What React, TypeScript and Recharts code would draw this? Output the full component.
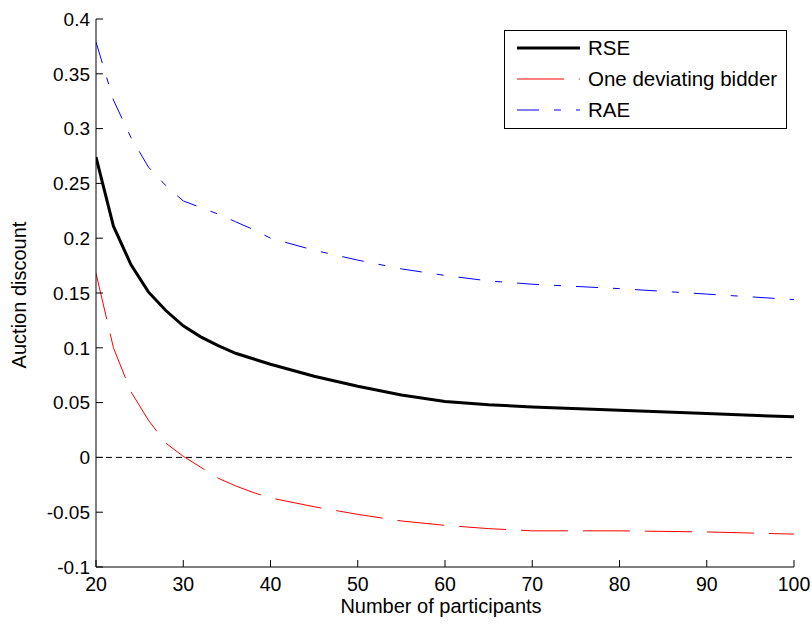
import React from "react";
import { LineChart, Line, XAxis, YAxis, ReferenceLine, Legend } from "recharts";

// number of participants (x) and the three auction-discount curves
const participants = [20, 22, 24, 26, 28, 30, 32, 34, 36, 38, 40, 45, 50, 55, 60, 65, 70, 80, 90, 100];
const rse = [0.274, 0.211, 0.176, 0.151, 0.134, 0.12, 0.11, 0.102, 0.095, 0.09, 0.085, 0.074, 0.065, 0.057, 0.051, 0.048, 0.046, 0.043, 0.04, 0.037];
const oneDeviating = [0.168, 0.1, 0.06, 0.034, 0.013, 0.001, -0.009, -0.019, -0.026, -0.032, -0.037, -0.045, -0.052, -0.058, -0.062, -0.065, -0.067, -0.067, -0.068, -0.07];
const rae = [0.379, 0.326, 0.292, 0.265, 0.248, 0.234, 0.228, 0.222, 0.215, 0.208, 0.2, 0.189, 0.18, 0.172, 0.166, 0.161, 0.158, 0.154, 0.149, 0.144];

const xTicks = [20, 30, 40, 50, 60, 70, 80, 90, 100];
const yTicks = [-0.1, -0.05, 0, 0.05, 0.1, 0.15, 0.2, 0.25, 0.3, 0.35, 0.4];

const seriesNames = ["RSE", "One deviating bidder", "RAE"];

const FONT = "'Liberation Sans', Arial, Helvetica, sans-serif";
const RED_DASH = "47 15";
const BLUE_DASH = "22 15 7 15";

const data = participants.map((n, i) => ({
  n,
  rse: rse[i],
  dev: oneDeviating[i],
  rae: rae[i],
}));

const LeftTick = ({ x, y, payload }: any) => (
  <g>
    <line x1={x} y1={y} x2={x + 7} y2={y} stroke="#000" />
    <text x={x - 6} y={y} dy="0.36em" textAnchor="end" fontSize={19} fontFamily={FONT} fill="#000">
      {String(payload.value)}
    </text>
  </g>
);

const RightTick = ({ x, y }: any) => <line x1={x} y1={y} x2={x - 7} y2={y} stroke="#000" />;

const BottomTick = ({ x, y, payload }: any) => (
  <g>
    <line x1={x} y1={y} x2={x} y2={y - 7} stroke="#000" />
    <text x={x} y={y + 24} textAnchor="middle" fontSize={19.5} fontFamily={FONT} fill="#000">
      {String(payload.value)}
    </text>
  </g>
);

const TopTick = ({ x, y }: any) => <line x1={x} y1={y} x2={x} y2={y + 7} stroke="#000" />;

const LegendBox = () => (
  <svg width={283} height={99} style={{ display: "block" }}>
    <rect x={0.5} y={0.5} width={282} height={98} fill="#fff" stroke="#000" />
    <line x1={13} y1={18} x2={76} y2={18} stroke="#000" strokeWidth={3} />
    <line x1={13} y1={49} x2={76} y2={49} stroke="#ff0000" strokeDasharray={RED_DASH} />
    <line x1={13} y1={80} x2={76} y2={80} stroke="#0000ff" strokeDasharray={BLUE_DASH} />
    {seriesNames.map((s, i) => (
      <text key={s} x={84} y={18 + i * 31} dy="0.36em" fontSize={20.5} fontFamily={FONT} fill="#000">
        {s}
      </text>
    ))}
  </svg>
);

export default function App() {
  return (
    <div style={{ width: 812, height: 626, background: "#fff" }}>
      <style>{"body{margin:0}"}</style>
      <LineChart width={812} height={626} data={data} margin={{ top: 19, right: 18, bottom: 19, left: 0 }}>
        <XAxis
          dataKey="n"
          type="number"
          domain={[20, 100]}
          ticks={xTicks}
          allowDataOverflow
          height={40}
          tickSize={0}
          tickMargin={0}
          tick={<BottomTick />}
          axisLine={{ stroke: "#000" }}
          label={{
            content: ({ viewBox }: any) => (
              <text
                x={viewBox.x + viewBox.width / 2 - 4}
                y={viewBox.y + 46}
                textAnchor="middle"
                fontSize={20}
                fontFamily={FONT}
                fill="#000"
              >
                Number of participants
              </text>
            ),
          }}
        />
        <XAxis
          xAxisId="top"
          orientation="top"
          dataKey="n"
          type="number"
          domain={[20, 100]}
          ticks={xTicks}
          height={0}
          tickSize={0}
          tickMargin={0}
          tick={<TopTick />}
          axisLine={{ stroke: "#000" }}
        />
        <YAxis
          type="number"
          domain={[-0.1, 0.4]}
          ticks={yTicks}
          allowDataOverflow
          width={96}
          tickSize={0}
          tickMargin={0}
          tick={<LeftTick />}
          axisLine={{ stroke: "#000" }}
          label={{
            content: () => (
              <text
                x={25.5}
                y={295}
                transform="rotate(-90, 25.5, 295)"
                textAnchor="middle"
                fontSize={20}
                fontFamily={FONT}
                fill="#000"
              >
                Auction discount
              </text>
            ),
          }}
        />
        <YAxis
          yAxisId="right"
          orientation="right"
          type="number"
          domain={[-0.1, 0.4]}
          ticks={yTicks}
          width={0}
          tickSize={0}
          tickMargin={0}
          tick={<RightTick />}
          axisLine={{ stroke: "#000" }}
        />
        <ReferenceLine y={0} stroke="#000" strokeDasharray="6 4" />
        <Line
          type="linear"
          dataKey="rae"
          name="RAE"
          stroke="#0000ff"
          strokeWidth={1}
          strokeDasharray={BLUE_DASH}
          dot={false}
          isAnimationActive={false}
        />
        <Line
          type="linear"
          dataKey="dev"
          name="One deviating bidder"
          stroke="#ff0000"
          strokeWidth={1}
          strokeDasharray={RED_DASH}
          dot={false}
          isAnimationActive={false}
        />
        <Line
          type="linear"
          dataKey="rse"
          name="RSE"
          stroke="#000"
          strokeWidth={3}
          dot={false}
          isAnimationActive={false}
        />
        <Legend
          layout="vertical"
          align="center"
          verticalAlign="middle"
          content={<LegendBox />}
          wrapperStyle={{ top: 30, left: 504, width: 283, height: 99 }}
        />
      </LineChart>
    </div>
  );
}
